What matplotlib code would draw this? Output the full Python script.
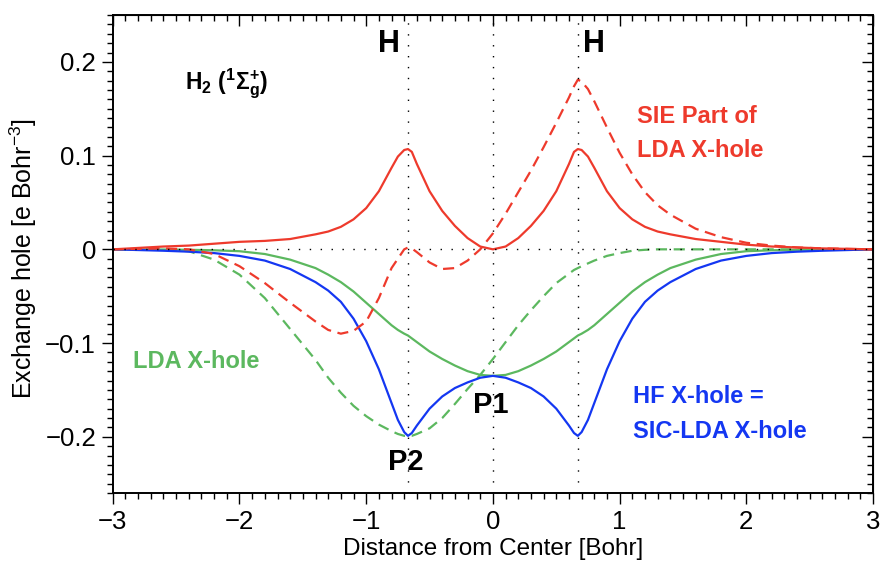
import numpy as np
import matplotlib
matplotlib.use("Agg")
import matplotlib.pyplot as plt
from matplotlib.ticker import MultipleLocator

plt.rcParams['font.family'] = ['Liberation Sans', 'DejaVu Sans']
plt.rcParams['mathtext.fontset'] = 'custom'
plt.rcParams['mathtext.rm'] = 'Liberation Sans'
plt.rcParams['mathtext.bf'] = 'Liberation Sans:bold'
plt.rcParams['mathtext.it'] = 'Liberation Sans:italic'

dist = [-3.0, -2.6, -2.4, -2.2, -2.0, -1.8, -1.6, -1.4, -1.3, -1.2, -1.1, -1.0,
        -0.9, -0.8, -0.75, -0.7, -0.67, -0.64, -0.6, -0.5, -0.4, -0.3, -0.2, -0.1,
        0.0,
        0.1, 0.2, 0.3, 0.4, 0.5, 0.6, 0.64, 0.67, 0.7, 0.75, 0.8, 0.9,
        1.0, 1.1, 1.2, 1.3, 1.4, 1.6, 1.8, 2.0, 2.2, 2.4, 2.6, 3.0]

# LDA X-hole, reference point P1 (solid) and P2 (dashed)
lda_p1 = [0.0, -0.0002, -0.0005, -0.001, -0.002, -0.005, -0.011, -0.020, -0.027, -0.035, -0.045, -0.057,
          -0.069, -0.081, -0.086, -0.090, -0.092, -0.095, -0.099, -0.109, -0.117, -0.124, -0.130, -0.134,
          -0.135,
          -0.134, -0.130, -0.124, -0.117, -0.109, -0.099, -0.095, -0.092, -0.090, -0.086, -0.081, -0.069,
          -0.057, -0.045, -0.035, -0.027, -0.020, -0.011, -0.005, -0.002, -0.001, -0.0005, -0.0002, 0.0]
lda_p2 = [0.0, 0.0, -0.002, -0.011, -0.027, -0.052, -0.085, -0.118, -0.137, -0.153, -0.167, -0.178,
          -0.187, -0.194, -0.197, -0.199, -0.199, -0.199, -0.197, -0.191, -0.180, -0.165, -0.149, -0.134,
          -0.117,
          -0.099, -0.081, -0.065, -0.050, -0.036, -0.026, -0.022, -0.020, -0.018, -0.015, -0.012, -0.007,
          -0.004, -0.0015, -0.0005, 0.0, 0.0, 0.0, 0.0, 0.0, 0.0, 0.0, 0.0, 0.0]

# HF X-hole (= SIC-LDA X-hole)
hf_hole = [0.0, -0.0015, -0.0025, -0.004, -0.007, -0.012, -0.021, -0.035, -0.044, -0.056, -0.074, -0.098,
           -0.128, -0.164, -0.182, -0.195, -0.199, -0.196, -0.188, -0.170, -0.157, -0.148, -0.142, -0.137,
           -0.135,
           -0.137, -0.142, -0.148, -0.157, -0.170, -0.188, -0.196, -0.199, -0.195, -0.182, -0.164, -0.128,
           -0.098, -0.074, -0.056, -0.044, -0.035, -0.021, -0.012, -0.007, -0.004, -0.0025, -0.0015, 0.0]

# SIE part of the LDA X-hole, P1 (solid) and P2 (dashed)
sie_p1 = [0.0, 0.003, 0.004, 0.006, 0.008, 0.009, 0.011, 0.016, 0.019, 0.024, 0.032, 0.044,
          0.062, 0.087, 0.099, 0.106, 0.107, 0.104, 0.091, 0.062, 0.041, 0.025, 0.012, 0.003,
          0.0,
          0.003, 0.012, 0.025, 0.041, 0.062, 0.091, 0.104, 0.107, 0.106, 0.099, 0.087, 0.062,
          0.044, 0.032, 0.024, 0.019, 0.016, 0.011, 0.008, 0.005, 0.003, 0.002, 0.001, 0.0]
sie_p2 = [0.0, 0.001, 0.0, -0.005, -0.018, -0.036, -0.057, -0.077, -0.086, -0.090, -0.087, -0.077,
          -0.052, -0.020, -0.010, 0.0, 0.002, 0.001, -0.003, -0.014, -0.021, -0.020, -0.012, 0.0,
          0.017,
          0.038, 0.061, 0.084, 0.109, 0.135, 0.162, 0.174, 0.181, 0.179, 0.171, 0.158, 0.130,
          0.103, 0.080, 0.061, 0.047, 0.037, 0.022, 0.013, 0.007, 0.004, 0.002, 0.001, 0.0]

h_pos = [-0.67, 0.67]

red = '#ee3a2c'
green = '#5cb85f'
blue = '#1437f2'

fig = plt.figure(figsize=(8.81, 5.61), dpi=100)
ax = fig.add_axes([0.128, 0.1212, 0.863, 0.852])

dash = (0, (5, 3))
lw = 1.6
ax.plot(dist, lda_p1, color=green, lw=lw)
ax.plot(dist, lda_p2, color=green, lw=lw, ls=dash)
ax.plot(dist, hf_hole, color=blue, lw=lw)
ax.plot(dist, sie_p1, color=red, lw=lw)
ax.plot(dist, sie_p2, color=red, lw=lw, ls=dash)

# dotted guide lines
dots = (0, (1.0, 6.85))
ax.axhline(0, color='black', lw=1.0, ls=dots, zorder=5)
for xv in h_pos + [0.0]:
    ax.axvline(xv, color='black', lw=1.0, ls=dots, zorder=5)

ax.set_xlim(-3, 3)
ax.set_ylim(-0.26, 0.25)
ax.xaxis.set_minor_locator(MultipleLocator(0.1))
ax.yaxis.set_minor_locator(MultipleLocator(0.01))
ax.set_yticks([-0.2, -0.1, 0, 0.1, 0.2])
ax.set_yticklabels(['\u22120.2', '\u22120.1', '0', '0.1', '0.2'])
ax.set_xticks([-3, -2, -1, 0, 1, 2, 3])
ax.set_xticklabels(['\u22123', '\u22122', '\u22121', '0', '1', '2', '3'])

ax.tick_params(which='both', direction='out', labelsize=18.5, width=1.0, pad=4)
ax.tick_params(which='major', length=8)
ax.tick_params(which='minor', length=4)
for s in ax.spines.values():
    s.set_linewidth(1.4)

# top and right ticks point inward
top = ax.secondary_xaxis('top')
top.xaxis.set_major_locator(MultipleLocator(1))
top.xaxis.set_minor_locator(MultipleLocator(0.1))
top.tick_params(which='both', direction='in', labeltop=False, width=1.0)
top.tick_params(which='major', length=8)
top.tick_params(which='minor', length=4)
right = ax.secondary_yaxis('right')
right.yaxis.set_major_locator(MultipleLocator(0.1))
right.yaxis.set_minor_locator(MultipleLocator(0.01))
right.tick_params(which='both', direction='in', labelright=False, width=1.0)
right.tick_params(which='major', length=8)
right.tick_params(which='minor', length=4)

ax.set_xlabel('Distance from Center [Bohr]', fontsize=17.5)
ax.set_ylabel('Exchange hole [e Bohr$^{\\mathrm{-3}}$]', fontsize=18)
ax.xaxis.set_label_coords(0.5, -0.095)
ax.yaxis.set_label_coords(-0.097, 0.49)

bold = dict(fontweight='bold')
ax.text(-2.43, 0.177, r'H$_\mathbf{2}$ ($^\mathbf{1}\mathbf{\Sigma}_\mathbf{g}^\mathbf{+}$)',
        fontsize=16.5, va='center', ha='left', **bold)
ax.text(-0.82, 0.219, 'H', fontsize=22, ha='center', va='center', **bold)
ax.text(0.80, 0.219, 'H', fontsize=22, ha='center', va='center', **bold)
ax.text(-0.016, -0.166, 'P1', fontsize=21, ha='center', va='center', **bold)
ax.text(-0.686, -0.227, 'P2', fontsize=21, ha='center', va='center', **bold)
ax.text(1.138, 0.142, 'SIE Part of', color=red, fontsize=17, ha='left', va='center', **bold)
ax.text(1.138, 0.1056, 'LDA X-hole', color=red, fontsize=17, ha='left', va='center', **bold)
ax.text(1.106, -0.157, 'HF X-hole =', color=blue, fontsize=17, ha='left', va='center', **bold)
ax.text(1.106, -0.194, 'SIC-LDA X-hole', color=blue, fontsize=17, ha='left', va='center', **bold)
ax.text(-2.84, -0.120, 'LDA X-hole', color=green, fontsize=17, ha='left', va='center', **bold)

fig.savefig('out.png', dpi=100)
